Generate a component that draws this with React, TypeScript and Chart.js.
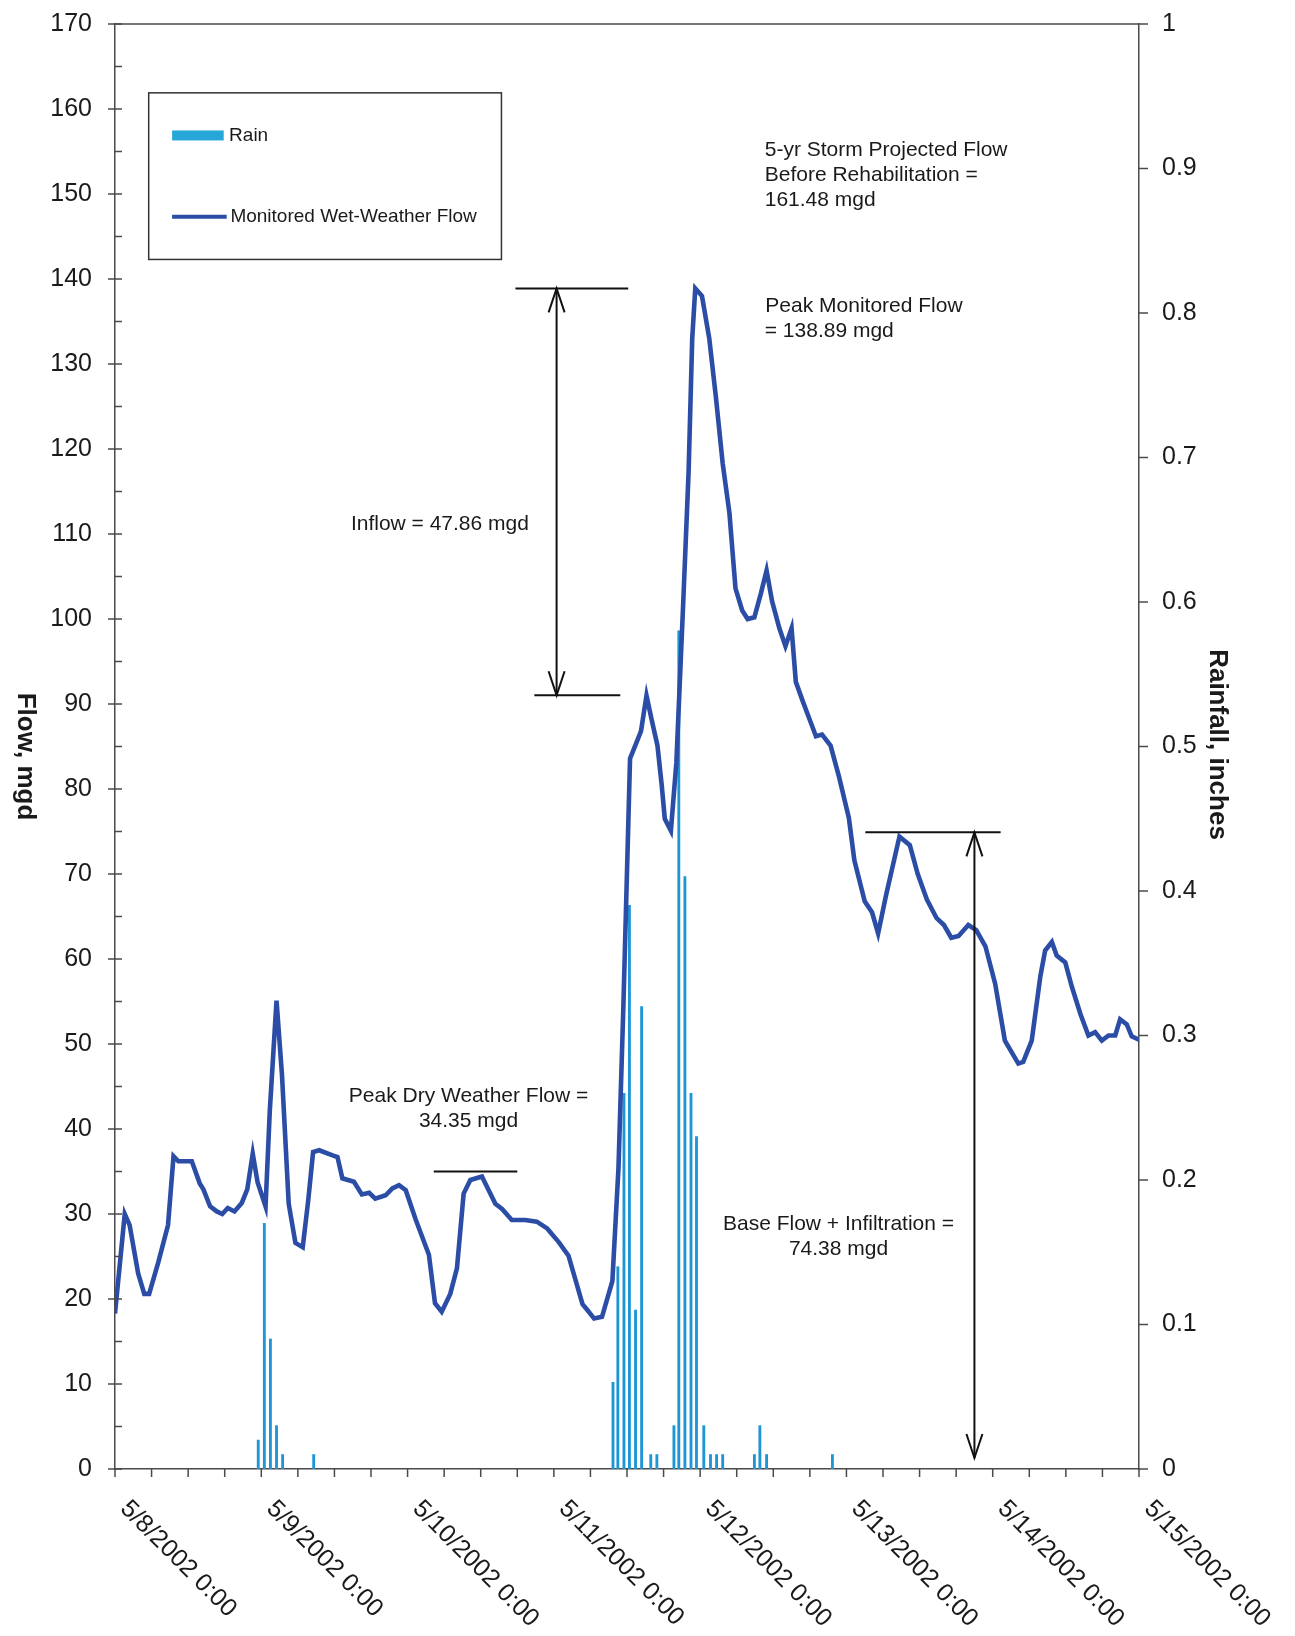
import React, { useEffect, useRef } from "react";
import { Chart, registerables } from "chart.js";

Chart.register(...registerables);

// ---------- data ----------
const dayLabels = [
  "5/8/2002 0:00", "5/9/2002 0:00", "5/10/2002 0:00", "5/11/2002 0:00",
  "5/12/2002 0:00", "5/13/2002 0:00", "5/14/2002 0:00", "5/15/2002 0:00",
];

// hours since 5/8/2002 0:00
const flowHours = [
  0, 1.6, 2.4, 3.8, 4.8, 5.6, 7.1, 8.7, 9.6, 10.4,
  12.6, 13.9, 14.5, 15.6, 16.7, 17.6, 18.5, 19.6, 20.8, 21.7,
  22.6, 23.4, 24.7, 25.4, 26.5, 27.4, 28.5, 29.6, 30.8, 31.7,
  32.5, 33.5, 35.7, 36.5, 37.3, 39.2, 40.5, 41.7, 42.7, 44.4,
  45.5, 46.6, 47.7, 49.3, 51.5, 52.5, 53.6, 55.0, 56.1, 57.2,
  58.3, 60.2, 62.4, 63.5, 65.1, 67.3, 69.2, 70.9, 72.8, 74.4,
  76.7, 77.5, 78.6, 79.9, 81.6, 82.6, 83.4, 84.5, 85.4, 86.3,
  87.2, 88.0, 89.0, 89.7, 90.2, 91.2, 92.1, 93.2, 94.1, 94.7,
  95.2, 96.3, 97.5, 98.6, 99.7, 100.8, 101.8, 102.9, 103.8, 104.9,
  106.0, 106.9, 107.8, 109.0, 110.0, 111.0, 111.7, 112.8, 113.9, 115.0,
  116.0, 117.4, 118.8, 120.4, 121.3, 123.0, 124.2, 125.2, 126.5, 128.7,
  130.4, 131.7, 133.2, 134.8, 136.0, 137.2, 138.4, 140.0, 141.3, 142.8,
  144.4, 146.0, 148.2, 149.0, 150.4, 151.8, 152.6, 153.7, 154.5, 155.9,
  157.0, 158.4, 159.7, 160.8, 161.9, 163.0, 164.1, 164.9, 166.0, 166.8,
  168.0,
];
// mgd
const flowValues = [
  18.3, 30.0, 28.7, 23.0, 20.6, 20.6, 24.3, 28.7, 36.8, 36.2,
  36.2, 33.6, 32.9, 30.9, 30.3, 30.0, 30.7, 30.3, 31.3, 32.9,
  37.1, 33.7, 30.9, 42.2, 55.1, 46.3, 31.2, 26.6, 26.1, 31.6,
  37.3, 37.5, 36.9, 36.7, 34.2, 33.8, 32.3, 32.5, 31.8, 32.2,
  33.0, 33.4, 32.8, 29.4, 25.2, 19.5, 18.5, 20.6, 23.6, 32.4,
  34.0, 34.4, 31.2, 30.6, 29.3, 29.3, 29.1, 28.3, 26.7, 25.1,
  19.4, 18.7, 17.7, 17.9, 22.1, 35.4, 54.3, 83.6, 85.2, 86.8,
  91.0, 88.3, 85.1, 80.4, 76.5, 75.1, 83.1, 101.5, 117.2, 133.0,
  138.9, 138.0, 133.0, 126.0, 118.3, 112.5, 103.6, 101.0, 100.0, 100.2,
  103.1, 105.7, 102.1, 98.9, 96.8, 98.9, 92.6, 90.4, 88.3, 86.2,
  86.4, 85.1, 81.4, 76.6, 71.6, 66.8, 65.5, 63.0, 67.5, 74.4,
  73.4, 70.0, 67.0, 64.8, 64.0, 62.5, 62.7, 64.0, 63.4, 61.5,
  57.1, 50.4, 47.7, 47.9, 50.4, 57.9, 61.0, 62.0, 60.4, 59.6,
  56.7, 53.5, 51.0, 51.4, 50.4, 51.0, 51.0, 52.9, 52.3, 50.9,
  50.5,
];

const rainHours = [
  23.5, 24.5, 25.5, 26.5, 27.5, 32.6,
  81.7, 82.5, 83.5, 84.4, 85.4, 86.4, 87.9, 88.9,
  91.7, 92.5, 93.5, 94.5, 95.4, 96.6, 97.7, 98.7, 99.7,
  104.9, 105.8, 106.9, 117.7,
];
// inches
const rainInches = [
  0.02, 0.17, 0.09, 0.03, 0.01, 0.01,
  0.06, 0.14, 0.26, 0.39, 0.11, 0.32, 0.01, 0.01,
  0.03, 0.58, 0.41, 0.26, 0.23, 0.03, 0.01, 0.01, 0.01,
  0.01, 0.03, 0.01, 0.01,
];

const legendLabels = ["Rain", "Monitored Wet-Weather Flow"];
const noteFiveYr = ["5-yr Storm Projected Flow", "Before Rehabilitation =", "161.48 mgd"];
const notePeak = ["Peak Monitored Flow", "= 138.89 mgd"];
const noteInflow = ["Inflow = 47.86 mgd"];
const noteDry = ["Peak Dry Weather Flow =", "34.35 mgd"];
const noteBase = ["Base Flow + Infiltration =", "74.38 mgd"];

// annotation levels (mgd) and hours as drawn on the figure
const inflowTop = 138.89;
const inflowBottom = 91.03;
const inflowTopSpan = [65.7, 84.2];
const inflowBottomSpan = [68.8, 82.9];
const inflowArrowHour = 72.45;
const dryLevel = 35.0;
const drySpan = [52.3, 66.0];
const baseLevel = 74.9;
const baseSpan = [123.1, 145.3];
const baseArrowHour = 141.0;
const baseArrowEnd = 1.3;

// ---------- styling ----------
const FONT = '"Liberation Sans", Arial, Helvetica, sans-serif';
const TEXT = "#1a1a1a";
const AXIS = "#4a4a4a";
const FLOW_COLOR = "#2b4da6";
const RAIN_COLOR = "#1e96d6";
const RAIN_LEGEND = "#27a7d8";

function seg(ctx: any, x1: number, y1: number, x2: number, y2: number) {
  ctx.beginPath();
  ctx.moveTo(x1, y1);
  ctx.lineTo(x2, y2);
  ctx.stroke();
}

function arrowHead(ctx: any, x: number, y: number, dir: number) {
  // dir = -1 : pointing up, +1 : pointing down
  ctx.beginPath();
  ctx.moveTo(x - 8, y - dir * 24);
  ctx.lineTo(x, y);
  ctx.lineTo(x + 8, y - dir * 24);
  ctx.stroke();
}

const decorPlugin = {
  id: "decor",
  afterDatasetsDraw(chart: any) {
    const { ctx, chartArea: ca, scales } = chart;
    const xs = scales.x;
    const ys = scales.y;
    const y2s = scales.y2;
    const px = (h: number) => xs.getPixelForValue(h);
    const py = (f: number) => ys.getPixelForValue(f);

    ctx.save();
    // frame top
    ctx.strokeStyle = AXIS;
    ctx.lineWidth = 1.5;
    seg(ctx, ca.left, ca.top, ca.right, ca.top);

    // left axis ticks: majors cross, minors inside
    for (let v = 0; v <= 170; v += 5) {
      const yy = py(v);
      if (v % 10 === 0) seg(ctx, ca.left - 7, yy, ca.left + 7, yy);
      else seg(ctx, ca.left, yy, ca.left + 7, yy);
    }
    // right axis ticks
    for (let i = 0; i <= 10; i++) {
      const yy = y2s.getPixelForValue(i / 10);
      seg(ctx, ca.right, yy, ca.right + 9, yy);
    }
    // x ticks every 6 h
    for (let h = 0; h <= 168; h += 6) {
      const xx = px(h);
      seg(ctx, xx, ca.bottom, xx, ca.bottom + 8);
    }

    // x labels, rotated 45deg clockwise
    ctx.fillStyle = TEXT;
    ctx.font = `25px ${FONT}`;
    ctx.textAlign = "left";
    ctx.textBaseline = "middle";
    dayLabels.forEach((lab, i) => {
      ctx.save();
      ctx.translate(px(i * 24) + 9, ca.bottom + 36);
      ctx.rotate(Math.PI / 4);
      ctx.fillText(lab, 0, 0);
      ctx.restore();
    });

    // axis titles
    ctx.font = `bold 26px ${FONT}`;
    ctx.textAlign = "center";
    ctx.textBaseline = "middle";
    ctx.save();
    ctx.translate(25, (ca.top + ca.bottom) / 2 + 10);
    ctx.rotate(Math.PI / 2);
    ctx.fillText("Flow, mgd", 0, 0);
    ctx.restore();
    ctx.save();
    ctx.translate(ca.right + 78, (ca.top + ca.bottom) / 2 - 2);
    ctx.rotate(Math.PI / 2);
    ctx.fillText("Rainfall, inches", 0, 0);
    ctx.restore();

    // legend box
    const bx1 = px(5.53), by1 = py(161.9);
    const bx2 = px(63.4), by2 = py(142.3);
    ctx.strokeStyle = "#333";
    ctx.lineWidth = 1.5;
    ctx.strokeRect(bx1, by1, bx2 - bx1, by2 - by1);
    ctx.fillStyle = RAIN_LEGEND;
    ctx.fillRect(bx1 + 23.4, by1 + 37.6, 51.6, 10);
    ctx.strokeStyle = FLOW_COLOR;
    ctx.lineWidth = 4;
    seg(ctx, bx1 + 23.4, by1 + 124, bx1 + 78, by1 + 124);
    ctx.fillStyle = TEXT;
    ctx.font = `19px ${FONT}`;
    ctx.textAlign = "left";
    ctx.textBaseline = "middle";
    ctx.fillText(legendLabels[0], bx1 + 80.4, by1 + 42.5);
    ctx.fillText(legendLabels[1], bx1 + 81.7, by1 + 123.5);

    // annotation texts
    ctx.font = `21px ${FONT}`;
    ctx.fillStyle = TEXT;
    ctx.textAlign = "left";
    noteFiveYr.forEach((t, i) => ctx.fillText(t, px(106.6), py(155.2) + i * 25));
    ctx.fillText(notePeak[0], px(106.7), py(136.8));
    ctx.fillText(notePeak[1], px(106.6), py(136.8) + 25);
    ctx.fillText(noteInflow[0], px(38.7), py(111.2));
    ctx.textAlign = "center";
    noteDry.forEach((t, i) => ctx.fillText(t, px(58.0), py(43.9) + i * 25));
    noteBase.forEach((t, i) => ctx.fillText(t, px(118.7), py(28.8) + i * 25));

    // annotation lines & arrows
    ctx.strokeStyle = "#111";
    ctx.lineWidth = 2;
    seg(ctx, px(inflowTopSpan[0]), py(inflowTop), px(inflowTopSpan[1]), py(inflowTop));
    seg(ctx, px(inflowBottomSpan[0]), py(inflowBottom), px(inflowBottomSpan[1]), py(inflowBottom));
    seg(ctx, px(inflowArrowHour), py(inflowTop), px(inflowArrowHour), py(inflowBottom));
    arrowHead(ctx, px(inflowArrowHour), py(inflowTop), -1);
    arrowHead(ctx, px(inflowArrowHour), py(inflowBottom), 1);

    seg(ctx, px(drySpan[0]), py(dryLevel), px(drySpan[1]), py(dryLevel));

    seg(ctx, px(baseSpan[0]), py(baseLevel), px(baseSpan[1]), py(baseLevel));
    seg(ctx, px(baseArrowHour), py(baseLevel), px(baseArrowHour), py(baseArrowEnd));
    arrowHead(ctx, px(baseArrowHour), py(baseLevel), -1);
    arrowHead(ctx, px(baseArrowHour), py(baseArrowEnd), 1);

    ctx.restore();
  },
};

export default function App() {
  const ref = useRef<HTMLCanvasElement | null>(null);

  useEffect(() => {
    if (!ref.current) return;
    const flowData = flowHours.map((h, i) => ({ x: h, y: flowValues[i] }));
    const rainData = rainHours.map((h, i) => ({ x: h, y: rainInches[i] }));
    const tickFont = { size: 25, family: FONT };
    const chart = new Chart(ref.current, {
      type: "bar",
      data: {
        datasets: [
          {
            type: "line",
            label: legendLabels[1],
            data: flowData,
            yAxisID: "y",
            borderColor: FLOW_COLOR,
            borderWidth: 4.6,
            pointRadius: 0,
            tension: 0,
            fill: false,
            order: 0,
          } as any,
          {
            type: "bar",
            label: legendLabels[0],
            data: rainData,
            yAxisID: "y2",
            backgroundColor: RAIN_COLOR,
            barThickness: 2.2,
            order: 1,
          } as any,
        ],
      },
      options: {
        responsive: false,
        maintainAspectRatio: false,
        devicePixelRatio: 1,
        animation: false,
        events: [],
        layout: { padding: { top: 24, left: 0, right: 0, bottom: 0 } },
        plugins: { legend: { display: false }, tooltip: { enabled: false } },
        scales: {
          x: {
            type: "linear",
            position: "bottom",
            offset: false,
            min: 0,
            max: 168,
            ticks: { display: false, stepSize: 6 },
            grid: { display: false, drawTicks: false, offset: false },
            border: { display: true, color: AXIS, width: 1.5 },
            afterFit: (s: any) => { s.height = 167; s.paddingLeft = 0; s.paddingRight = 0; },
          },
          y: {
            type: "linear",
            position: "left",
            min: 0,
            max: 170,
            ticks: { stepSize: 10, font: tickFont, color: TEXT, padding: 23 },
            grid: { display: false, drawTicks: false },
            border: { display: true, color: AXIS, width: 1.5 },
            afterFit: (s: any) => { s.width = 115; s.paddingTop = 0; s.paddingBottom = 0; },
          },
          y2: {
            type: "linear",
            position: "right",
            min: 0,
            max: 1,
            ticks: {
              stepSize: 0.1,
              font: tickFont,
              color: TEXT,
              padding: 23,
              callback: (v: any) => Number(v).toFixed(1).replace(/\.0$/, ""),
            },
            grid: { display: false, drawTicks: false },
            border: { display: true, color: AXIS, width: 1.5 },
            afterFit: (s: any) => { s.width = 156; s.paddingTop = 0; s.paddingBottom = 0; },
          },
        },
      } as any,
      plugins: [decorPlugin],
    });
    return () => chart.destroy();
  }, []);

  return (
    <div style={{ position: "absolute", left: 0, top: 0, width: 1295, height: 1636, background: "#fff" }}>
      <canvas ref={ref} width={1295} height={1636} style={{ display: "block", width: 1295, height: 1636 }} />
    </div>
  );
}
